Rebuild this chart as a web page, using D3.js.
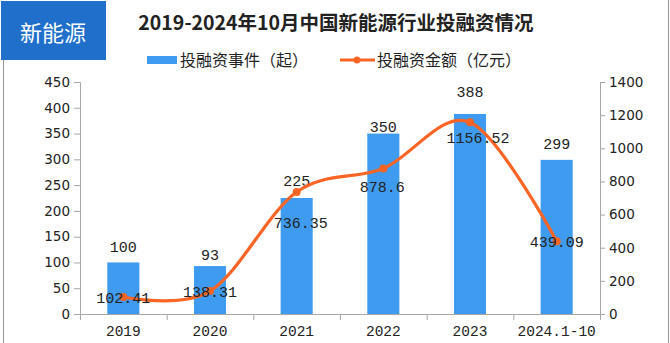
<!DOCTYPE html>
<html><head><meta charset="utf-8">
<script src="https://cdn.jsdelivr.net/npm/d3@7"></script>
<style>body{margin:0;background:#fff}svg{display:block}</style>
</head><body>
<svg id="c" width="670" height="343"></svg>
<script>
const categories = ["2019","2020","2021","2022","2023","2024.1-10"];
const eventCounts = [100,93,225,350,388,299];
const amounts = [102.41,138.31,736.35,878.6,1156.52,439.09];
const amountLabels = ["102.41","138.31","736.35","878.6","1156.52","439.09"];
const leftTicks = [0,50,100,150,200,250,300,350,400,450];
const rightTicks = [0,200,400,600,800,1000,1200,1400];
const barLabelOffsets = [15,11,17,7,22,16];
const lineLabelOffsets = [[0,1],[0,1],[4,31],[-1,19],[8,16],[0,1]];

const svg = d3.select("#c");
const L=80,R=600,T=82,B=314;
const x = d3.scaleBand().domain(categories).range([L,R]);
const yL = d3.scaleLinear().domain([0,450]).range([B,T]);
const yR = d3.scaleLinear().domain([0,1400]).range([B,T]);
const grey="#a6a6a6", barC="#3f9bf0", lineC="#fa6424";
const monoF="'Liberation Mono','DejaVu Sans Mono',monospace";
const sansF="'DejaVu Sans',Verdana,sans-serif";
const cjkF="'Noto Sans CJK SC',sans-serif";

// frame
svg.append("line").attr("x1",3.5).attr("x2",3.5).attr("y1",60).attr("y2",343).attr("stroke","#999");
svg.append("line").attr("x1",668.5).attr("x2",668.5).attr("y1",0).attr("y2",343).attr("stroke","#999");
// badge
svg.append("rect").attr("x",1).attr("y",1).attr("width",105).attr("height",59).attr("fill","#1f6fcb");
svg.append("text").attr("x",53).attr("y",41).attr("text-anchor","middle").attr("fill","#fff")
  .attr("font-family",cjkF).attr("font-size",22).text("新能源");
// title
svg.append("text").attr("x",336).attr("y",30).attr("text-anchor","middle").attr("fill","#222")
  .attr("font-family","'Noto Sans CJK SC',serif").attr("font-weight","bold").attr("font-size",19.5)
  .text("2019-2024年10月中国新能源行业投融资情况");
// legend
svg.append("rect").attr("x",147).attr("y",56).attr("width",30).attr("height",8).attr("fill",barC);
svg.append("text").attr("x",180).attr("y",66).attr("font-family",cjkF).attr("font-size",16).attr("fill","#222").text("投融资事件（起）");
svg.append("line").attr("x1",340).attr("x2",375).attr("y1",60).attr("y2",60).attr("stroke",lineC).attr("stroke-width",3);
svg.append("circle").attr("cx",357).attr("cy",60).attr("r",3.5).attr("fill",lineC);
svg.append("text").attr("x",377).attr("y",66).attr("font-family",cjkF).attr("font-size",16).attr("fill","#222").text("投融资金额（亿元）");

// axes
const axL = svg.append("g").attr("transform",`translate(${L},0)`)
  .call(d3.axisLeft(yL).tickValues(leftTicks).tickFormat(d3.format("d")).tickSize(6).tickPadding(4));
const axR = svg.append("g").attr("transform",`translate(${R},0)`)
  .call(d3.axisRight(yR).tickValues(rightTicks).tickFormat(d3.format("d")).tickSize(5).tickPadding(4));
const axB = svg.append("g").attr("transform",`translate(0,${B})`)
  .call(d3.axisBottom(x).tickSize(0).tickPadding(12));
[axL,axR,axB].forEach(g=>{
  g.selectAll("path,line").attr("stroke",grey);
  g.selectAll("text").attr("fill","#222");
});
axL.selectAll("text").attr("font-family",sansF).attr("font-size",13.5);
axR.selectAll("text").attr("font-family",sansF).attr("font-size",13.5);
axB.selectAll("text").attr("font-family",monoF).attr("font-size",14.5);
axB.select("path").attr("d",`M${L},0.5H${R}`);
// category separators
const bounds = categories.map((c,i)=>x(c)).concat([R]);
svg.append("g").selectAll("line").data(bounds).join("line")
  .attr("x1",d=>d+0.5).attr("x2",d=>d+0.5).attr("y1",B).attr("y2",B+6).attr("stroke",grey);

// bars
const bw = x.bandwidth()*0.37;
svg.append("g").selectAll("rect").data(eventCounts).join("rect")
  .attr("x",(d,i)=>x(categories[i])+x.bandwidth()/2-bw/2)
  .attr("width",bw).attr("y",d=>yL(d)).attr("height",d=>B-yL(d)).attr("fill",barC);
svg.append("g").selectAll("text").data(eventCounts).join("text")
  .attr("x",(d,i)=>x(categories[i])+x.bandwidth()/2)
  .attr("y",(d,i)=>yL(d)-barLabelOffsets[i]+5)
  .attr("text-anchor","middle").attr("font-family",monoF).attr("font-size",15).attr("fill","#222")
  .text(d=>d);

// line
const pts = amounts.map((v,i)=>[x(categories[i])+x.bandwidth()/2, yR(v)]);
svg.append("path").datum(pts).attr("d",d3.line().curve(d3.curveCardinal.tension(0)))
  .attr("fill","none").attr("stroke",lineC).attr("stroke-width",3.2).attr("stroke-linecap","round");
svg.append("g").selectAll("circle").data(pts).join("circle")
  .attr("cx",d=>d[0]).attr("cy",d=>d[1]).attr("r",4).attr("fill",lineC);
svg.append("g").selectAll("text").data(amountLabels).join("text")
  .attr("x",(d,i)=>pts[i][0]+lineLabelOffsets[i][0])
  .attr("y",(d,i)=>pts[i][1]+lineLabelOffsets[i][1]+5)
  .attr("text-anchor","middle").attr("font-family",monoF).attr("font-size",15).attr("fill","#222")
  .text(d=>d);
</script>
</body></html>
